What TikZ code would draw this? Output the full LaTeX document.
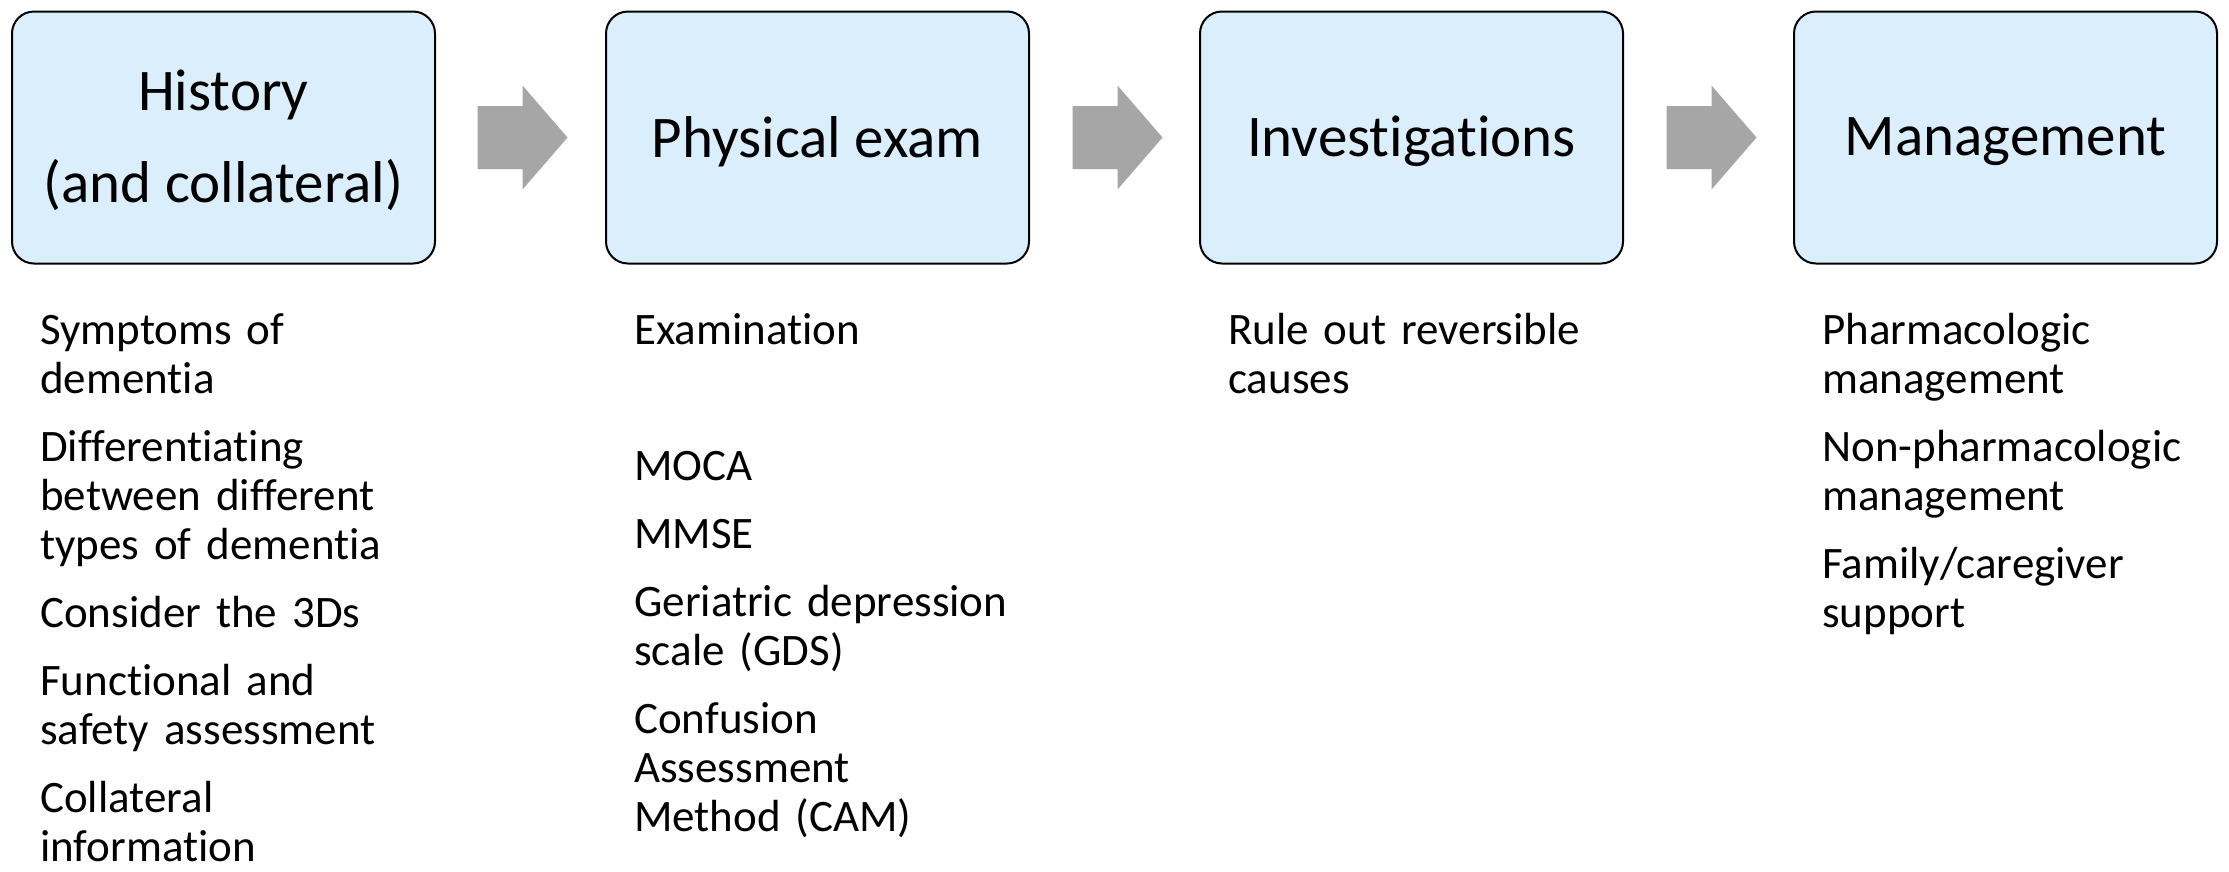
\documentclass[tikz,border=0pt]{standalone}
\usepackage{fontspec}
\setmainfont{Carlito}[Ligatures=NoCommon]
\usetikzlibrary{calc}

\definecolor{boxfill}{HTML}{DAEEFC}
\definecolor{arrowgray}{HTML}{A6A6A6}

\tikzset{
  stepbox/.style={draw=black, line width=2pt, fill=boxfill, rounded corners=22pt,
    minimum width=423pt, minimum height=252pt, inner sep=0pt},
  steptitle/.style={inner sep=0pt, align=center, font=\fontsize{59}{70}\selectfont},
  itemlist/.style={anchor=north west, inner sep=0pt, text width=560pt, align=left,
    font=\fontsize{45}{49}\selectfont,
    execute at begin node={\setlength{\parskip}{19pt}\rule{0pt}{34pt}}},
}

% grey block arrow centred between two step boxes
\newcommand\flowarrow[3]{%
  \fill[arrowgray] ($(#1.east)!0.5!(#2.west)+(#3,0)$) ++(-45,-31.5) -- ++(45,0) -- ++(0,-20.5)
    -- ++(45,52) -- ++(-45,52) -- ++(0,-20.5) -- ++(-45,0) -- cycle;
}

\begin{document}
\begin{tikzpicture}[x=1pt, y=-1pt]
  \fill[white] (0,0) rectangle (2229,871);
  \useasboundingbox (0,0) rectangle (2229,871);

  % the four stages
  \node[stepbox] (hist) at (223.5,137.5) {};
  \node[stepbox] (exam) at (817.5,137.5) {};
  \node[stepbox] (inv)  at (1411.5,137.5) {};
  \node[stepbox] (mgmt) at (2005.5,137.5) {};

  \node[steptitle] (histtitle) at ($(hist.center)+(0,3)$) {History\\[22pt](and collateral)};
  \node[steptitle] (examtitle) at ($(exam.center)+(0,4)$) {Physical exam};
  \node[steptitle] (invtitle)  at ($(inv.center)+(0,4)$) {Investigations};
  \node[steptitle] (mgmttitle) at ($(mgmt.center)+(0,4)$) {Management};

  \flowarrow{hist}{exam}{2}
  \flowarrow{exam}{inv}{3}
  \flowarrow{inv}{mgmt}{3}

  % details under each stage
  \node[itemlist] (histlist) at (40,310) {Symptoms of\newline dementia\par
    Differentiating\newline between different\newline types of dementia\par
    Consider the 3Ds\par
    Functional and\newline safety assessment\par
    Collateral\newline information};
  \node[itemlist] (examlist) at (634,310) {Examination\par\mbox{}\par
    MOCA\par
    MMSE\par
    Geriatric depression\newline scale (GDS)\par
    Confusion\newline Assessment\newline Method (CAM)};
  \node[itemlist] (invlist) at (1228,310) {Rule out reversible\newline causes};
  \node[itemlist] (mgmtlist) at (1822,310) {Pharmacologic\newline management\par
    Non-pharmacologic\newline management\par
    Family/caregiver\newline support};
\end{tikzpicture}
\end{document}
